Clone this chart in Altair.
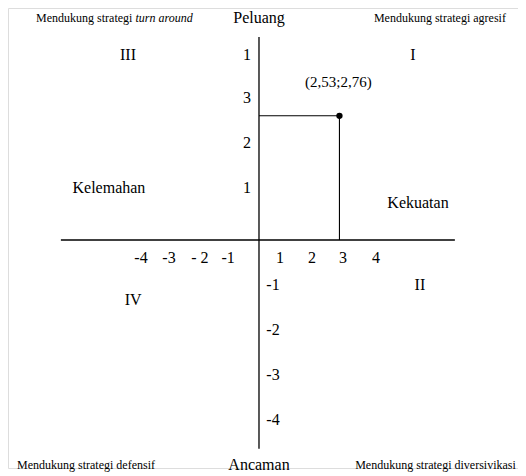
import altair as alt
import pandas as pd

# scale: data units
X_DOMAIN = [-7.893, 8.145]
Y_DOMAIN = [-5.067, 5.156]

# point
point_x = [2.53]
point_y = [2.76]
point_label = ["(2,53;2,76)"]

# axis extents
haxis_x = [-6.23, 6.16]
vaxis_y = [4.51, -4.64]

# tick labels on horizontal axis
xtick_text = ["-4", "-3", "- 2", "-1", "1", "2", "3", "4"]
xtick_x = [-3.71, -2.83, -1.86, -0.97, 0.66, 1.67, 2.64, 3.68]
xtick_y = [-0.40] * 8

# tick labels on vertical axis
ytick_text = ["1", "3", "2", "1", "-1", "-2", "-3", "-4"]
ytick_x = [-0.38, -0.38, -0.38, -0.38, 0.44, 0.44, 0.44, 0.44]
ytick_y = [4.11, 3.16, 2.16, 1.16, -1.0, -2.0, -3.0, -4.0]

# big labels
big_text = ["Peluang", "Ancaman", "Kelemahan", "Kekuatan", "III", "I", "IV", "II"]
big_x = [0.0, 0.0, -4.72, 5.00, -4.12, 4.84, -3.96, 5.06]
big_y = [4.93, -5.0, 1.16, 0.82, 4.11, 4.11, -1.33, -1.0]

# small strategy labels
small_text = ["Mendukung strategi agresif", "Mendukung strategi defensif",
              "Mendukung strategi diversivikasi"]
small_x = [5.69, -5.44, 5.55]
small_y = [4.93, -5.0, -5.0]

turn_text_a = ["Mendukung strategi"]
turn_text_b = ["turn around"]
turn_x = [-3.98]
turn_y = [4.93]

FONT = "Liberation Serif"
sx = alt.Scale(domain=X_DOMAIN, nice=False, zero=False)
sy = alt.Scale(domain=Y_DOMAIN, nice=False, zero=False)
X = lambda f: alt.X(f, type="quantitative", scale=sx, axis=None)
Y = lambda f: alt.Y(f, type="quantitative", scale=sy, axis=None)

base_pt = pd.DataFrame({"x": point_x, "y": point_y, "label": point_label, "zero": [0.0]})

haxis = alt.Chart(pd.DataFrame({"x": [haxis_x[0]], "x2": [haxis_x[1]], "y": [0.0]})).mark_rule(
    color="black", strokeWidth=1.3).encode(x=X("x"), x2="x2", y=Y("y"))
vaxis = alt.Chart(pd.DataFrame({"y": [vaxis_y[0]], "y2": [vaxis_y[1]], "x": [0.0]})).mark_rule(
    color="black", strokeWidth=1.3).encode(x=X("x"), y=Y("y"), y2="y2")

hline = alt.Chart(base_pt).mark_rule(color="black", strokeWidth=1.1).encode(
    x=X("zero"), x2="x", y=Y("y"))
vline = alt.Chart(base_pt).mark_rule(color="black", strokeWidth=1.1).encode(
    x=X("x"), y=Y("zero"), y2="y")
dot = alt.Chart(base_pt).mark_point(filled=True, color="black", size=40, opacity=1).encode(
    x=X("x"), y=Y("y"))
dot_label = alt.Chart(base_pt).mark_text(font=FONT, fontSize=15, color="black", dy=-34, dx=-1).encode(
    x=X("x"), y=Y("y"), text="label")


def text_layer(texts, xs, ys, size, **kw):
    df = pd.DataFrame({"t": texts, "x": xs, "y": ys})
    return alt.Chart(df).mark_text(font=FONT, fontSize=size, color="black",
                                   baseline="middle", **kw).encode(
        x=X("x"), y=Y("y"), text="t")


layers = [
    haxis, vaxis, hline, vline, dot, dot_label,
    text_layer(xtick_text, xtick_x, xtick_y, 16),
    text_layer(ytick_text, ytick_x, ytick_y, 16),
    text_layer(big_text, big_x, big_y, 16),
    text_layer(small_text, small_x, small_y, 12),
    text_layer(turn_text_a, turn_x, turn_y, 12, align="right"),
    text_layer(turn_text_b, turn_x, turn_y, 12, align="left", fontStyle="italic", dx=3),
]

chart = alt.layer(*layers).properties(
    width=510, height=460, padding={"left": 0, "top": 0, "right": 0, "bottom": 8},
    autosize="none"
).configure_view(stroke=None).configure(background="white")

chart.save("out.html", embed_options={"renderer": "svg", "actions": False})
